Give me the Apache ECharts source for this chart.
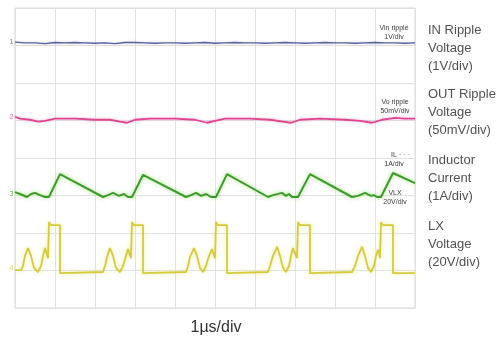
<!DOCTYPE html>
<html>
<head>
<meta charset="utf-8">
<script src="https://cdn.jsdelivr.net/npm/echarts@6/dist/echarts.min.js"></script>
<style>
  html, body { margin: 0; padding: 0; background: #ffffff; }
  #chart { width: 503px; height: 343px; }
</style>
</head>
<body>
<div id="chart"></div>
<script>
// Scope capture: time in µs (1 µs/div), vertical position in screen divisions (0..8 from bottom)
const timeTicks = [0, 1, 2, 3, 4, 5, 6, 7, 8, 9, 10];
const channelNames = ['Vin ripple', 'Vo ripple', 'IL', 'VLX'];
const channelScales = ['1V/div', '50mV/div', '1A/div', '20V/div'];
const legendLines = [
  ['IN Ripple', 'Voltage', '(1V/div)'],
  ['OUT Ripple', 'Voltage', '(50mV/div)'],
  ['Inductor', 'Current', '(1A/div)'],
  ['LX', 'Voltage', '(20V/div)']
];
const axisCaption = '1µs/div';

// CH1: input ripple
const vinRipple = [
  [0,7.09],[0.25,7.07],[0.5,7.07],[0.75,7.05],[1.0,7.08],[1.25,7.07],[1.5,7.08],[1.75,7.07],
  [2.0,7.06],[2.25,7.07],[2.5,7.05],[2.75,7.08],[3.0,7.08],[3.25,7.07],[3.5,7.06],[3.75,7.07],
  [4.0,7.07],[4.25,7.06],[4.5,7.07],[4.75,7.08],[5.0,7.06],[5.25,7.07],[5.5,7.08],[5.75,7.07],
  [6.0,7.07],[6.25,7.06],[6.5,7.07],[6.75,7.08],[7.0,7.07],[7.25,7.06],[7.5,7.07],[7.75,7.08],
  [8.0,7.07],[8.25,7.07],[8.5,7.06],[8.75,7.07],[9.0,7.08],[9.25,7.07],[9.5,7.07],[9.75,7.06],[10,7.07]
];

// CH2: output ripple
const voRipple = [
  [0,5.1],[0.125,5.05],[0.375,5.02],[0.575,4.97],[0.75,4.99],[1.0,5.05],[1.5,5.05],[2.0,5.02],
  [2.375,5.02],[2.625,4.97],[2.8,4.94],[3.0,5.02],[3.375,5.05],[4.0,5.05],[4.5,5.02],[4.8,4.94],
  [5.0,4.99],[5.25,5.05],[5.875,5.05],[6.375,5.02],[6.7,4.97],[6.9,4.94],[7.125,5.02],[7.625,5.05],
  [8.25,5.02],[8.625,4.99],[8.925,4.94],[9.175,5.02],[9.5,5.07],[9.75,5.05],[10,5.05]
];

// CH3: inductor current
const inductorCurrent = [
  [0,3.09],[0.125,3.04],[0.3,2.96],[0.4,3.04],[0.5,3.07],[0.625,3.01],[0.75,2.96],[0.85,2.96],
  [1.125,3.57],[2.2,2.96],[2.325,3.01],[2.45,3.07],[2.6,2.99],[2.725,3.04],[2.825,2.96],[2.925,2.96],
  [3.2,3.55],[4.275,2.96],[4.4,3.01],[4.525,3.07],[4.65,2.99],[4.775,3.04],[4.9,2.96],[5.025,2.96],
  [5.3,3.57],[6.325,2.96],[6.45,3.01],[6.675,3.07],[6.775,2.99],[6.85,3.04],[6.925,2.96],[7.075,2.96],
  [7.375,3.57],[8.425,2.96],[8.575,2.99],[8.75,3.07],[8.9,2.99],[8.975,3.01],[9.05,2.96],[9.15,2.96],
  [9.45,3.6],[10,3.33]
];

// CH4: switch node voltage
const lxVoltage = [
  [0,1.01],[0.15,1.01],[0.2,1.12],[0.25,1.39],[0.325,1.60],[0.4,1.39],[0.475,1.07],[0.575,0.96],
  [0.65,1.12],[0.7,1.39],[0.75,1.60],[0.775,1.55],[0.825,1.33],[0.85,1.33],[0.85,2.29],[0.9,2.21],
  [1.125,2.21],[1.125,0.93],
  [2.2,0.96],[2.25,1.12],[2.3,1.36],[2.375,1.60],[2.45,1.39],[2.525,1.07],[2.625,0.96],[2.7,1.12],
  [2.775,1.39],[2.825,1.57],[2.85,1.49],[2.9,1.33],[2.925,1.33],[2.925,2.29],[2.975,2.21],[3.2,2.21],[3.2,0.93],
  [4.275,0.96],[4.325,1.12],[4.375,1.36],[4.475,1.60],[4.55,1.39],[4.625,1.07],[4.7,0.96],[4.775,1.12],
  [4.85,1.39],[4.925,1.57],[4.95,1.49],[5.0,1.33],[5.025,1.33],[5.025,2.29],[5.075,2.21],[5.3,2.21],[5.3,0.93],
  [6.325,0.96],[6.375,1.12],[6.45,1.39],[6.55,1.63],[6.625,1.39],[6.7,1.07],[6.775,0.96],[6.85,1.12],
  [6.9,1.39],[6.95,1.60],[6.975,1.52],[7.05,1.33],[7.075,1.33],[7.075,2.29],[7.125,2.21],[7.375,2.21],[7.375,0.93],
  [8.425,0.96],[8.5,1.12],[8.575,1.39],[8.675,1.63],[8.75,1.39],[8.825,1.07],[8.9,0.96],[8.975,1.12],
  [9.025,1.39],[9.075,1.55],[9.1,1.49],[9.125,1.33],[9.15,1.33],[9.15,2.29],[9.2,2.21],[9.45,2.21],[9.45,0.93],[10,0.93]
];

// Channel ground markers (division level of each trace reference)
const markerLevels = [7.1, 5.1, 3.05, 1.06];
const traceColors = ['#56629c', '#e0468e', '#3f9a2e', '#d2cc3e'];
const haloColors = ['rgba(120,130,200,0.35)', 'rgba(240,120,180,0.5)', 'rgba(150,225,110,0.9)', 'rgba(235,232,140,0.95)'];
const traceWidths = [1.4, 1.8, 2, 1.8];

const chart = echarts.init(document.getElementById('chart'), null, { renderer: 'canvas' });

const GRID = { left: 15, top: 8, width: 400, height: 300 };

function traceSeries(name, data, idx) {
  return {
    name: name,
    type: 'line',
    data: data,
    showSymbol: false,
    symbol: 'none',
    animation: false,
    silent: true,
    lineStyle: {
      color: traceColors[idx],
      width: traceWidths[idx],
      shadowColor: haloColors[idx],
      shadowBlur: idx >= 2 ? 4 : 3
    },
    z: 3
  };
}

const graphics = [];
// labels inside the graticule, next to each trace
const innerLabelPos = [[394, 28], [395, 102], [394, 155], [395, 193]];
channelNames.forEach((n, i) => {
  graphics.push({
    type: 'text',
    x: innerLabelPos[i][0], y: innerLabelPos[i][1] - 4,
    style: { text: n + '\n' + channelScales[i], fill: '#3a3a3a', font: '7px "Liberation Sans", Arial, sans-serif',
             align: 'center', lineHeight: 9 }
  });
});
// trigger-level dashes beside the IL tag
graphics.push({
  type: 'text', x: 399, y: 151,
  style: { text: '- - -', fill: '#9a9a9a', font: '7px "Liberation Sans", Arial, sans-serif' }
});
// right-hand legend text
const legendTop = [30, 94, 160, 226];
legendLines.forEach((lines, i) => {
  lines.forEach((t, j) => {
    graphics.push({
      type: 'text',
      x: 428, y: legendTop[i] + j * 18,
      style: { text: t, fill: '#525252', font: '13px "Liberation Sans", Arial, sans-serif', verticalAlign: 'middle' }
    });
  });
});
// bottom caption
graphics.push({
  type: 'text', x: 216, y: 328,
  style: { text: axisCaption, fill: '#333333', font: '16px "Liberation Sans", Arial, sans-serif',
           align: 'center', verticalAlign: 'middle' }
});

const option = {
  backgroundColor: '#ffffff',
  animation: false,
  grid: { left: GRID.left, top: GRID.top, width: GRID.width, height: GRID.height,
          show: true, borderColor: '#d8d8d8', borderWidth: 1, backgroundColor: 'transparent' },
  xAxis: {
    type: 'value', min: timeTicks[0], max: timeTicks[timeTicks.length - 1], interval: 1,
    axisLine: { show: false }, axisTick: { show: false }, axisLabel: { show: false },
    splitLine: { show: true, lineStyle: { color: '#e2e2e2', width: 1 } }
  },
  yAxis: {
    type: 'value', min: 0, max: 8, interval: 1,
    axisLine: { show: false }, axisTick: { show: false }, axisLabel: { show: false },
    splitLine: { show: true, lineStyle: { color: '#e2e2e2', width: 1 } }
  },
  series: [
    traceSeries('Vin ripple', vinRipple, 0),
    traceSeries('Vo ripple', voRipple, 1),
    traceSeries('IL', inductorCurrent, 2),
    traceSeries('VLX', lxVoltage, 3),
    {
      // channel reference markers at the left edge of the graticule
      type: 'scatter',
      silent: true,
      animation: false,
      data: markerLevels.map((v, i) => ({
        value: [0, v],
        itemStyle: { color: 'transparent' },
        label: { show: true, formatter: String(i + 1), position: 'left', distance: 1,
                 color: traceColors[i], fontSize: 7, fontFamily: '"Liberation Sans", Arial, sans-serif' }
      })),
      symbolSize: 1,
      z: 4
    }
  ],
  graphic: graphics
};

chart.setOption(option);
</script>
</body>
</html>
